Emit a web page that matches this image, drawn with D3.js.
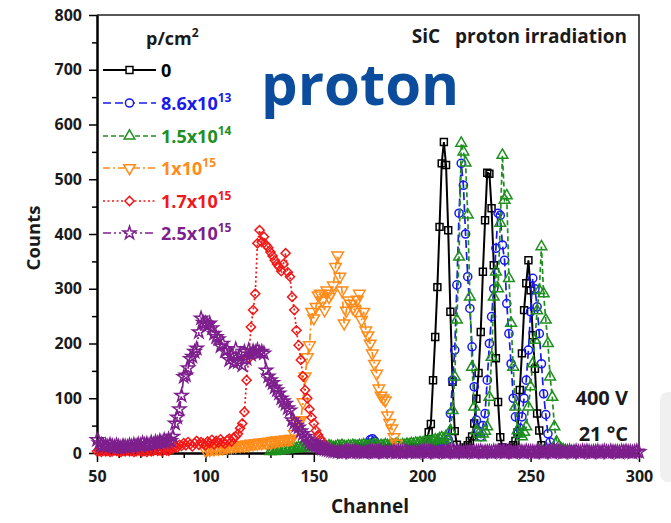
<!DOCTYPE html>
<html>
  <head>
    <meta charset="utf-8">
    <title>SiC proton irradiation</title>
    <style type="text/css">
      body {
        margin: 0;
        background: #fff;
        font-family: "Open Sans", Arial, sans-serif;
      }
      .axis text {
        font-size: 16px;
        font-weight: 700;
        fill: #1a1a1a;
        font-family: "Open Sans", Arial, sans-serif;
      }
      .axis path, .axis line {
        stroke: #000;
      }
      .axis path { stroke-width: 2px; }
      .axis line { stroke-width: 1.5px; }
      .label {
        font-weight: 700;
        fill: #1a1a1a;
      }
    </style>
  </head>
  <body>
    <script src="https://d3js.org/d3.v7.min.js"></script>
    <script>
    // channel ranges + counts per fluence
    var blackStart = 195;
    var blackCounts = [2,3,4,5,6,
      8,12,20,38,53,133,212,303,413,529,
      568,526,407,258,130,40,15,6,5,7,
      10,14,22,30,54,99,146,221,331,425,
      512,510,447,343,173,93,29,10,6,5,
      7,9,14,22,38,115,182,261,310,352,
      297,215,154,72,41,14,5,3,2,2,1];

    var blueStart = 165;
    var blueCounts = [4,5,4,6,5,
      6,7,6,8,12,18,24,26,22,15,
      8,6,5,6,5,7,6,5,7,6,
      8,7,6,8,7,9,8,10,9,11,
      10,12,11,13,14,12,15,16,18,20,
      15,10,25,72,133,188,307,438,529,489,
      400,322,264,194,121,60,40,30,50,72,
      133,200,249,300,374,438,434,380,352,273,
      218,163,100,66,35,45,66,100,133,188,
      258,319,300,267,218,163,108,70,35,20,
      10,6,4,3,2,2];

    var greenStart = 130;
    var greenCounts = [3,4,3,5,4,6,5,7,6,8,
      7,9,8,10,9,11,10,12,11,10,
      12,11,13,12,10,12,11,13,12,10,
      11,13,12,14,12,11,13,12,14,13,
      12,14,13,15,13,12,14,13,15,14,
      12,14,13,15,14,13,15,14,16,14,
      13,15,14,16,15,17,16,18,17,19,
      18,20,19,21,20,22,24,23,26,28,
      25,30,22,41,78,139,243,358,566,550,
      530,435,285,157,84,41,35,28,35,40,
      48,102,175,285,331,300,420,544,462,470,
      319,237,157,84,41,35,30,38,48,84,
      121,163,206,260,297,377,291,243,200,139,
      102,48,20,12,8,6,4,3,2,2,1];

    var orangeStart = 100;
    var orangeCounts = [5,7,6,8,7,9,8,10,9,11,
      10,12,11,13,12,14,13,15,14,16,
      15,17,16,18,17,19,18,20,19,21,
      20,22,21,23,22,24,23,25,24,26,
      26,35,54,58,60,93,140,175,197,258,
      246,267,288,291,279,261,297,285,291,306,
      340,361,322,297,237,260,279,273,265,261,
      280,291,243,258,224,215,200,182,163,145,
      118,105,100,96,69,55,45,29,17,8,
      4];

    var redStart = 50;
    var redCounts = [3,4,2,5,3,4,2,3,5,4,
      3,2,4,3,5,3,4,2,3,5,
      4,3,4,2,5,3,4,6,4,5,
      3,6,5,4,7,8,12,10,15,13,
      18,14,20,16,12,18,22,15,20,17,
      14,21,18,24,16,22,19,25,20,17,
      23,26,21,28,30,35,45,54,75,133,
      173,230,261,291,383,407,385,395,380,375,
      367,360,352,345,340,332,345,365,330,322,
      285,261,224,197,170,140,115,100,80,65,
      54,41,33,26,20,15,10,6,4];

    var purpleStart = 50;
    var purpleCounts = [24,18,15,13,14,12,15,13,11,14,
      12,10,13,12,11,14,12,15,13,16,
      14,18,15,17,14,19,16,20,18,22,
      19,24,20,25,22,30,54,65,80,105,
      139,142,155,172,176,185,191,221,246,238,
      237,233,237,228,218,212,208,195,200,186,
      188,170,178,165,190,166,180,160,185,172,
      188,180,186,184,188,183,185,182,151,140,
      133,128,120,115,109,100,95,90,82,78,
      60,55,50,47,40,35,30,25,20,17,
      15,13,12,10,8,7,6,5,4,3,
      3,2,3,1,2,2,3,1,2,3,
      2,3,2,1,2,2,3,2,1,2,
      2,3,1,2,3,2,2,3,1,2,
      2,1,3,2,2,2,3,1,2,2,
      2,3,1,2,3,2,1,2,2,3,
      2,1,2,2,3,1,2,2,2,1,
      3,2,3,2,1,2,2,3,1,2,
      2,2,1,3,2,3,2,2,1,2,
      3,2,1,2,2,3,2,1,3,2,
      2,2,1,3,2,2,1,2,3,2,
      1,3,2,3,2,1,2,2,3,1,
      2,3,2,1,3,2,3,2,1,2,
      2,3,1,2,3,2,1,3,2,2,
      2,1,3,2,3,2,2,1,2,3,
      2];

    var legendBase = ["0", "8.6x10", "1.5x10", "1x10", "1.7x10", "2.5x10"];
    var legendSup  = ["", "13", "14", "15", "15", "15"];

    var xMajor = [50, 100, 150, 200, 250, 300];
    var xMinor = [60,70,80,90,110,120,130,140,160,170,180,190,210,220,230,240,260,270,280,290];
    var yMajor = [0, 100, 200, 300, 400, 500, 600, 700, 800];
    var yMinor = [50, 150, 250, 350, 450, 550, 650, 750];

    var W = 671, H = 523;
    var margin = {top: 15, right: 32, bottom: 70, left: 97};
    var width = W - margin.left - margin.right,
        height = H - margin.top - margin.bottom;

    var x = d3.scaleLinear().domain([50, 300]).range([0, width]);
    var y = d3.scaleLinear().domain([0, 800]).range([height, 0]);

    var svgRoot = d3.select("body").append("svg")
        .attr("width", W)
        .attr("height", H);

    // grey blob at the right edge of the screenshot
    svgRoot.append("rect")
        .attr("x", 660).attr("y", 392).attr("width", 20).attr("height", 90)
        .attr("rx", 8)
        .attr("fill", "#f0f0f0");

    var svg = svgRoot.append("g")
        .attr("transform", "translate(" + margin.left + "," + margin.top + ")");

    // frame (top + right)
    svg.append("path")
        .attr("d", "M0,0H" + width + "V" + height)
        .attr("fill", "none")
        .attr("stroke", "#222")
        .attr("stroke-width", 1.6);

    // axes
    svg.append("g")
        .attr("class", "x axis")
        .attr("transform", "translate(0," + height + ")")
        .call(d3.axisBottom(x).tickValues(xMinor).tickSize(5).tickSizeOuter(0).tickFormat(""));
    svg.append("g")
        .attr("class", "x axis")
        .attr("transform", "translate(0," + height + ")")
        .call(d3.axisBottom(x).tickValues(xMajor).tickSize(9).tickSizeOuter(0).tickPadding(9));

    svg.append("g")
        .attr("class", "y axis")
        .call(d3.axisLeft(y).tickValues(yMinor).tickSize(5).tickSizeOuter(0).tickFormat(""));
    svg.append("g")
        .attr("class", "y axis")
        .call(d3.axisLeft(y).tickValues(yMajor).tickSize(8).tickSizeOuter(0).tickPadding(7));

    svgRoot.append("text")
        .attr("class", "label")
        .attr("x", 370).attr("y", 513)
        .attr("text-anchor", "middle")
        .style("font-size", "19px")
        .text("Channel");

    svgRoot.append("text")
        .attr("class", "label")
        .attr("transform", "translate(40,238) rotate(-90)")
        .attr("text-anchor", "middle")
        .style("font-size", "18.5px")
        .text("Counts");

    function toPoints(start, counts) {
      return counts.map(function(c, i) { return {ch: start + i, c: c}; });
    }

    var series = [
      {pts: toPoints(blackStart, blackCounts), color: "#000000", dash: null, width: 2,
        sym: d3.symbol().type(d3.symbolSquare).size(48)(), rot: 0},
      {pts: toPoints(blueStart, blueCounts), color: "#1a1aee", dash: "8,4", width: 1.7,
        sym: d3.symbol().type(d3.symbolCircle).size(52)(), rot: 0},
      {pts: toPoints(greenStart, greenCounts), color: "#1f8f1f", dash: "5,3", width: 1.7,
        sym: d3.symbol().type(d3.symbolTriangle).size(50)(), rot: 0},
      {pts: toPoints(orangeStart, orangeCounts), color: "#ff8c1a", dash: "7,3,2,3", width: 1.7,
        sym: d3.symbol().type(d3.symbolTriangle).size(58)(), rot: 180},
      {pts: toPoints(redStart, redCounts), color: "#f21818", dash: "2,2.5", width: 1.7,
        sym: d3.symbol().type(d3.symbolSquare).size(42)(), rot: 45},
      {pts: toPoints(purpleStart, purpleCounts), color: "#7d1f8c", dash: "8,3,2,3,2,3", width: 1.7,
        sym: d3.symbol().type(d3.symbolStar).size(52)(), rot: 0}
    ];

    var line = d3.line()
        .x(function(d) { return x(d.ch); })
        .y(function(d) { return y(d.c); });

    series.forEach(function(s) {
      var g = svg.append("g");
      g.append("path")
          .datum(s.pts)
          .attr("d", line)
          .attr("fill", "none")
          .attr("stroke", s.color)
          .attr("stroke-width", s.width)
          .attr("stroke-dasharray", s.dash);

      g.selectAll("path.mk")
          .data(s.pts)
          .enter().append("path")
          .attr("class", "mk")
          .attr("d", s.sym)
          .attr("transform", function(d) {
            return "translate(" + x(d.ch) + "," + y(d.c) + ") rotate(" + s.rot + ")";
          })
          .attr("fill", "none")
          .attr("stroke", s.color)
          .attr("stroke-width", 1.5);
    });

    // legend
    var legend = svgRoot.append("g");
    var ptitle = legend.append("text")
        .attr("class", "label")
        .attr("x", 146).attr("y", 45)
        .style("font-size", "18px");
    ptitle.append("tspan").text("p/cm");
    ptitle.append("tspan").attr("dy", -8).style("font-size", "12px").text("2");

    var rowY = [70, 103, 136, 168, 201, 233];
    series.forEach(function(s, i) {
      var ry = rowY[i];
      legend.append("line")
          .attr("x1", 103).attr("x2", 156)
          .attr("y1", ry).attr("y2", ry)
          .attr("stroke", s.color)
          .attr("stroke-width", s.width)
          .attr("stroke-dasharray", s.dash);
      legend.append("path")
          .attr("d", s.sym)
          .attr("transform", "translate(129.5," + ry + ") rotate(" + s.rot + ")")
          .attr("fill", "#fff")
          .attr("stroke", s.color)
          .attr("stroke-width", 1.5);
      var t = legend.append("text")
          .attr("x", 161).attr("y", ry + 6.5)
          .attr("fill", s.color)
          .style("font-size", "18px")
          .style("font-weight", 700);
      t.append("tspan").text(legendBase[i]);
      if (legendSup[i]) {
        t.append("tspan").attr("dy", -8).style("font-size", "12px").text(legendSup[i]);
      }
    });

    svgRoot.append("text")
        .attr("x", 627).attr("y", 43)
        .attr("text-anchor", "end")
        .attr("class", "label")
        .style("font-size", "19px")
        .style("white-space", "pre")
        .text("SiC   proton irradiation");

    svgRoot.append("text")
        .attr("x", 261).attr("y", 105)
        .attr("fill", "#0b4d9c")
        .style("font-size", "58px")
        .style("font-weight", 700)
        .text("proton");

    svgRoot.append("text")
        .attr("class", "label")
        .attr("x", 628).attr("y", 405)
        .attr("text-anchor", "end")
        .style("font-size", "20px")
        .text("400 V");
    svgRoot.append("text")
        .attr("class", "label")
        .attr("x", 628).attr("y", 441)
        .attr("text-anchor", "end")
        .style("font-size", "20px")
        .text("21 °C");
    </script>
  </body>
</html>
